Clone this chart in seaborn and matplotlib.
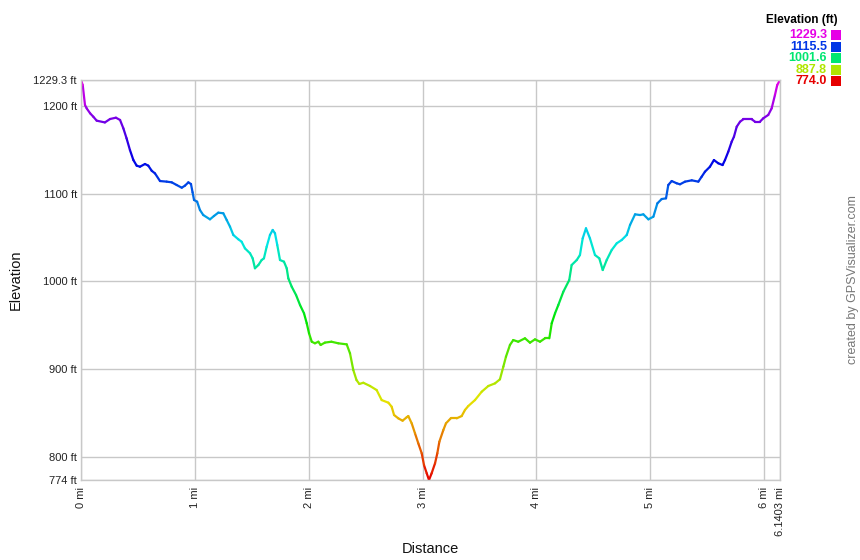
import numpy as np
import pandas as pd
import matplotlib
matplotlib.use("Agg")
import matplotlib.pyplot as plt
from matplotlib.colors import ListedColormap, hsv_to_rgb
from matplotlib.patches import Rectangle
import seaborn as sns

# Elevation profile (distance in miles, elevation in feet)
distance_mi = [0, 0.015, 0.035, 0.05, 0.08, 0.108, 0.138, 0.21, 0.255, 0.307,
               0.343, 0.372, 0.40, 0.43, 0.46, 0.489, 0.518, 0.562, 0.591, 0.621,
               0.65, 0.694, 0.753, 0.797, 0.84, 0.885, 0.913, 0.943, 0.966, 0.98,
               0.993, 1.02, 1.045, 1.074, 1.133, 1.168, 1.206, 1.25, 1.28, 1.309,
               1.338, 1.382, 1.411, 1.44, 1.485, 1.508, 1.528, 1.558, 1.587, 1.607,
               1.631, 1.66, 1.684, 1.704, 1.724, 1.748, 1.783, 1.807, 1.821, 1.851,
               1.889, 1.924, 1.959, 1.983, 2.003, 2.027, 2.055, 2.085, 2.105, 2.143,
               2.2, 2.26, 2.334, 2.363, 2.392, 2.42, 2.445, 2.48, 2.539, 2.597,
               2.641, 2.7, 2.729, 2.75, 2.787, 2.825, 2.861, 2.875, 2.905, 2.934,
               2.963, 2.993, 3.013, 3.037, 3.057, 3.08, 3.11, 3.13, 3.148, 3.183,
               3.206, 3.248, 3.3, 3.344, 3.373, 3.402, 3.461, 3.52, 3.578, 3.637,
               3.68, 3.71, 3.733, 3.768, 3.797, 3.841, 3.9, 3.944, 3.988, 4.032,
               4.076, 4.114, 4.135, 4.164, 4.193, 4.237, 4.289, 4.31, 4.355, 4.383,
               4.407, 4.436, 4.471, 4.515, 4.553, 4.583, 4.618, 4.662, 4.706, 4.75,
               4.794, 4.823, 4.867, 4.911, 4.94, 4.984, 5.028, 5.063, 5.101, 5.139,
               5.159, 5.189, 5.233, 5.262, 5.306, 5.365, 5.423, 5.452, 5.481, 5.525,
               5.56, 5.598, 5.636, 5.657, 5.686, 5.716, 5.736, 5.76, 5.789, 5.818,
               5.892, 5.921, 5.964, 5.993, 6.037, 6.067, 6.096, 6.116, 6.1403]

elevation_ft = [1229.3, 1223.6, 1200.8, 1197, 1191.4, 1187.5, 1183, 1181, 1184.9, 1186.4,
                1183.8, 1174.3, 1163, 1149.6, 1138.2, 1131.8, 1130.6, 1133.7, 1131.8, 1126,
                1123, 1114.3, 1113.6, 1112.8, 1109.8, 1106.7, 1109, 1112.8, 1110.9, 1101.5,
                1092.7, 1090.8, 1081.3, 1075.6, 1070.7, 1074.5, 1078.3, 1077.6, 1069.9, 1062.3,
                1052.9, 1048, 1045.2, 1037.7, 1032, 1026.3, 1015, 1018.7, 1024.4, 1026.3,
                1039.5, 1052.9, 1058.6, 1054.8, 1041.5, 1024.4, 1022.5, 1015, 1003.6, 994,
                984.6, 973.2, 963.7, 952.4, 941, 931.4, 929.6, 931.4, 927.7, 930.4,
                931.4, 929.6, 928.4, 918.2, 899.2, 887.8, 883.3, 884.7, 881, 876.4,
                865, 862, 857.4, 848, 844.2, 841.5, 845.4, 846.8, 838.5, 827.1,
                815.7, 804.4, 791, 781.6, 774, 781.6, 793, 804.4, 817.6, 830.9,
                838.5, 844.2, 844.2, 846.8, 853.7, 858.2, 865, 874.5, 881, 884,
                888.6, 903, 914.3, 927.7, 933.3, 931.4, 935.3, 930.3, 934.1, 931.4,
                935.3, 935.3, 952.4, 963.7, 973.2, 988.3, 1001.6, 1018.7, 1024.4, 1030.1,
                1049, 1060.5, 1049, 1030.1, 1026.3, 1013, 1024.4, 1035.8, 1043.4, 1047.2,
                1052.9, 1064.3, 1076.4, 1075.6, 1076.4, 1070.7, 1073.7, 1088.9, 1093.8, 1094.6,
                1109.8, 1114.3, 1111.7, 1110.6, 1113.6, 1115.1, 1113.6, 1119.2, 1124.9, 1130.6,
                1138.2, 1134.5, 1132.5, 1138.2, 1147.7, 1159.1, 1164.8, 1176.1, 1181.8, 1184.6,
                1184.6, 1181.8, 1181.8, 1185.7, 1189.5, 1197, 1212.2, 1223.6, 1229.3]

y_ticks = [774, 800, 900, 1000, 1100, 1200, 1229.3]
y_labels = ["774 ft", "800 ft", "900 ft", "1000 ft", "1100 ft", "1200 ft", "1229.3 ft"]
x_ticks = [0, 1, 2, 3, 4, 5, 6, 6.1403]
x_labels = ["0 mi", "1 mi", "2 mi", "3 mi", "4 mi", "5 mi", "6 mi", "6.1403 mi"]
legend_levels = [1229.3, 1115.5, 1001.6, 887.8, 774.0]

ELEV_MIN, ELEV_MAX = 774.0, 1229.3

# rainbow: red at the lowest point, through yellow/green/blue, to magenta at the top
hues = np.linspace(0, 300 / 360, 256)
rainbow = ListedColormap(hsv_to_rgb(np.column_stack([hues, np.ones(256), np.full(256, 0.9)])))


def elev_color(v):
    return rainbow((v - ELEV_MIN) / (ELEV_MAX - ELEV_MIN))


# one short segment per pair of points so each gets its own colour
rows = []
for i in range(len(distance_mi) - 1):
    mid = (elevation_ft[i] + elevation_ft[i + 1]) / 2
    rows.append({"mi": distance_mi[i], "ft": elevation_ft[i], "seg": i, "mid": mid})
    rows.append({"mi": distance_mi[i + 1], "ft": elevation_ft[i + 1], "seg": i, "mid": mid})
seg_df = pd.DataFrame(rows)

sns.set_style("white")
plt.rcParams["font.family"] = ["Liberation Sans", "DejaVu Sans"]

fig = plt.figure(figsize=(8.6, 5.6), dpi=100)
ax = fig.add_axes([81 / 860, 1 - 480 / 560, 699 / 860, 400 / 560])

sns.lineplot(data=seg_df, x="mi", y="ft", hue="mid", units="seg", estimator=None,
             palette=rainbow, hue_norm=(ELEV_MIN, ELEV_MAX), legend=False,
             linewidth=1.6, solid_capstyle="round", ax=ax)

ax.set_xlim(0, 6.1403)
ax.set_ylim(ELEV_MIN, ELEV_MAX)
ax.set_xticks(x_ticks)
ax.set_xticklabels(x_labels, rotation=90, va="top", ha="center")
ax.set_yticks(y_ticks)
ax.set_yticklabels(y_labels)
ax.tick_params(axis="both", length=0, labelsize=8, colors="#222222")
ax.tick_params(axis="x", pad=5)
ax.tick_params(axis="y", pad=3)
ax.grid(True, color="#c8c8c8", linewidth=1)
for sp in ax.spines.values():
    sp.set_color("#c8c8c8")
    sp.set_linewidth(1)

ax.set_xlabel("Distance", fontsize=10.5, color="#111111")
ax.set_ylabel("Elevation", fontsize=10.5, color="#111111")
ax.xaxis.set_label_coords(0.5, -0.155)
ax.yaxis.set_label_coords(-0.084, 0.5)

# colour key in the top right corner
fig.text(838 / 860, 1 - 20 / 560, "Elevation (ft)", ha="right", va="center",
         fontsize=8.5, fontweight="bold", color="#000000")
for k, lev in enumerate(legend_levels):
    yc = 35 + k * 11.6
    fig.text(827 / 860, 1 - yc / 560, f"{lev:.1f}", ha="right", va="center",
             fontsize=9, fontweight="bold", color=elev_color(lev))
    fig.patches.append(Rectangle((831 / 860, 1 - (yc + 5) / 560), 10 / 860, 10 / 560,
                                 transform=fig.transFigure, facecolor=elev_color(lev),
                                 edgecolor="none"))

fig.text(853 / 860, 1 - 280 / 560, "created by GPSVisualizer.com", rotation=90,
         ha="center", va="center", fontsize=9, color="#777777")

fig.savefig("out.png", dpi=100)
